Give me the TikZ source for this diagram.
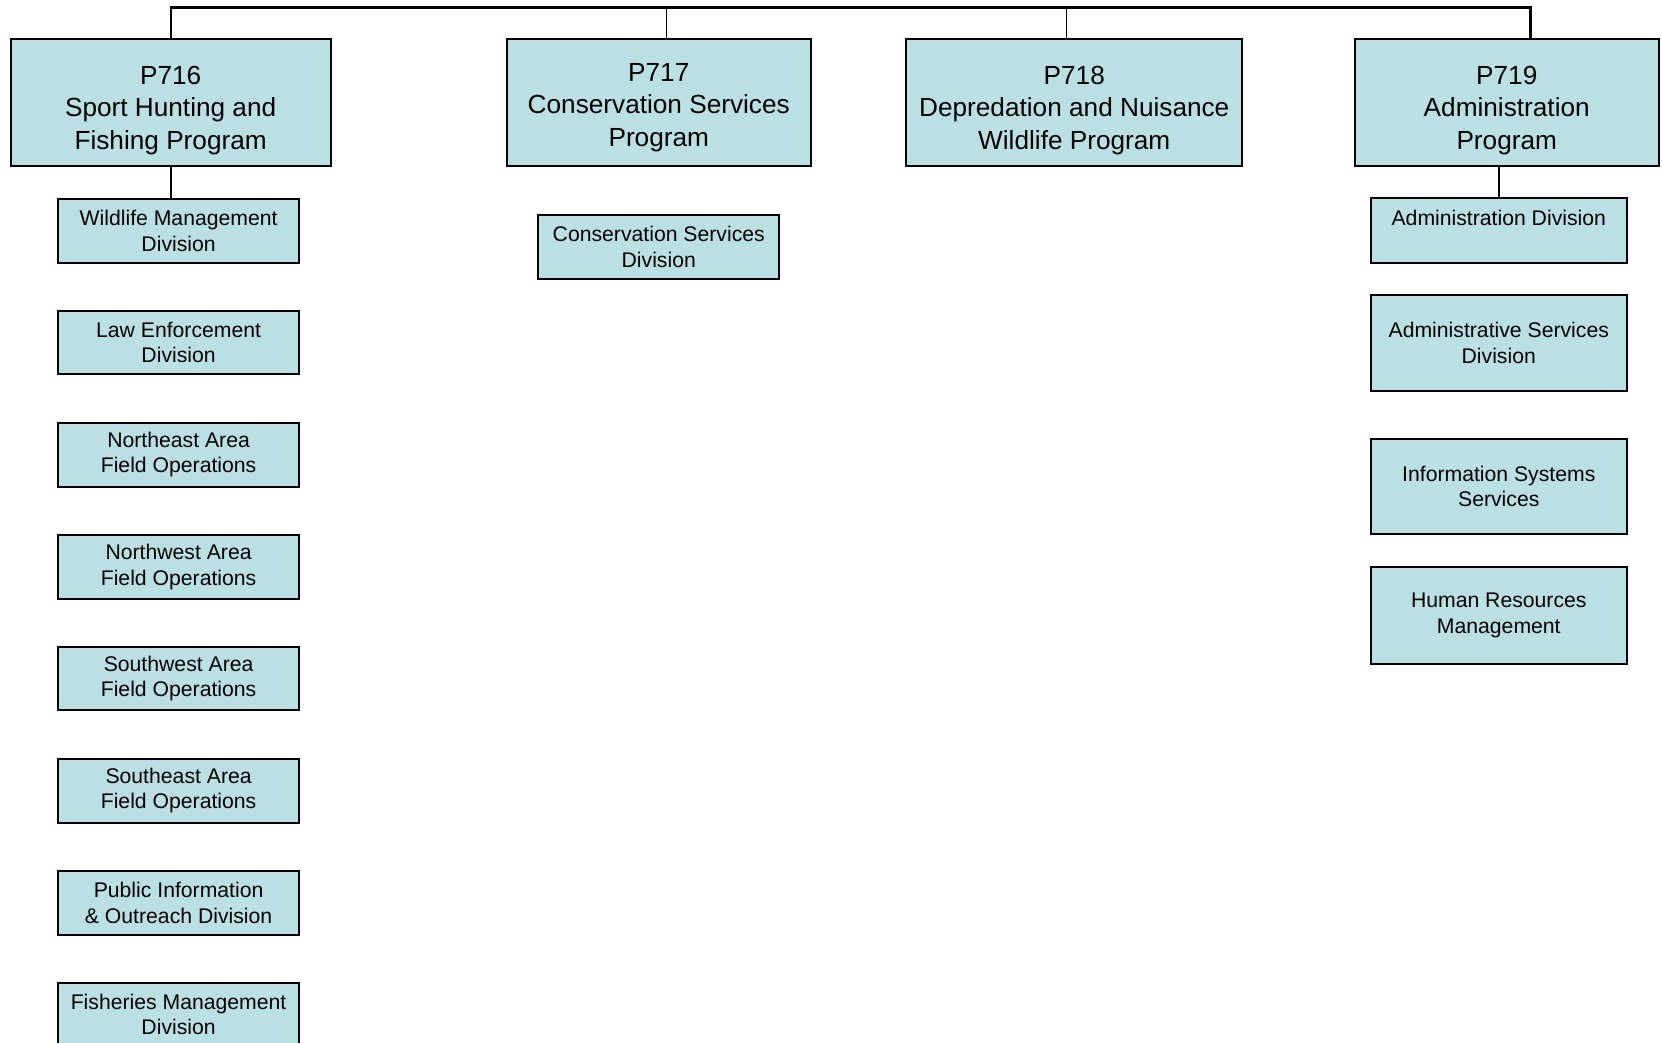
\documentclass[tikz,border=0pt]{standalone}
\usepackage{fontspec}
\setmainfont{Liberation Sans}
\definecolor{boxfill}{HTML}{BAE0E3}
\begin{document}
\begin{tikzpicture}[x=0.53pt,y=-0.53pt,
  progbox/.style={draw=black,fill=boxfill,line width=1pt,inner sep=0pt,
    minimum height=63.6pt},
  progtext/.style={inner sep=0pt,align=center,
    font=\fontsize{13.1}{16.2}\selectfont},
  div/.style={draw=black,fill=boxfill,line width=1pt,inner sep=0pt,align=center,
    font=\fontsize{10.6}{12.7}\selectfont},
  conn/.style={line width=1.1pt},
  thin/.style={line width=0.6pt}]
\useasboundingbox (0,0) rectangle (1568,984);

% program boxes
\node[progbox,minimum width=160.06pt] (p716) at (161,97) {};
\node[progbox,minimum width=152.11pt] (p717) at (621.5,97) {};
\node[progbox,minimum width=168.01pt] (p718) at (1013.5,97) {};
\node[progbox,minimum width=152.11pt] (p719) at (1421.5,97) {};

\node[progtext,yshift=-3.7pt] (t716) at (p716.center) {P716\\Sport Hunting and\\Fishing Program};
\node[progtext,yshift=-2.4pt] (t717) at (p717.center) {P717\\Conservation Services\\Program};
\node[progtext,yshift=-3.7pt] (t718) at (p718.center) {P718\\Depredation and Nuisance\\Wildlife Program};
\node[progtext,yshift=-3.7pt] (t719) at (p719.center) {P719\\Administration\\Program};

% connector points on the top line
\coordinate (tr) at (1444,7);
\coordinate (c717) at (629,7);
\coordinate (c718) at (1006,7);

\draw[conn] (p716.north) |- (tr) -- (p719.north -| tr);
\draw[thin] (p717.north -| c717) -- (c717);
\draw[thin] (p718.north -| c718) -- (c718);

% P716 divisions
\tikzset{ldiv/.style={div,minimum width=120.31pt,minimum height=31.8pt}}
\node[ldiv] (d1) at (168.5,218) {Wildlife Management\\Division};
\node[ldiv] (d2) at (168.5,323) {Law Enforcement\\Division};
\node[ldiv] (d3) at (168.5,429) {Northeast Area\\Field Operations};
\node[ldiv] (d4) at (168.5,535) {Northwest Area\\Field Operations};
\node[ldiv] (d5) at (168.5,640) {Southwest Area\\Field Operations};
\node[ldiv] (d6) at (168.5,746) {Southeast Area\\Field Operations};
\node[ldiv] (d7) at (168.5,852) {Public Information\\\& Outreach Division};
\node[ldiv] (d8) at (168.5,957) {Fisheries Management\\Division};

\draw[conn] (p716.south) -- (p716.south |- d1.north);

% P717 division
\node[ldiv] (c1) at (621.5,233) {Conservation Services\\Division};

% P719 divisions
\tikzset{rdiv/.style={div,minimum width=128.26pt}}
\node[rdiv,minimum height=32.33pt] (a1) at (1414,217.5) {Administration Division\\\phantom{D}};
\node[rdiv,minimum height=48.23pt] (a2) at (1414,323.5) {Administrative Services\\Division};
\node[rdiv,minimum height=47.7pt] (a3) at (1414,459) {Information Systems\\Services};
\node[rdiv,minimum height=48.23pt] (a4) at (1414,580.5) {Human Resources\\Management};

\draw[conn] (a1.north) -- (a1.north |- p719.south);
\end{tikzpicture}
\end{document}
